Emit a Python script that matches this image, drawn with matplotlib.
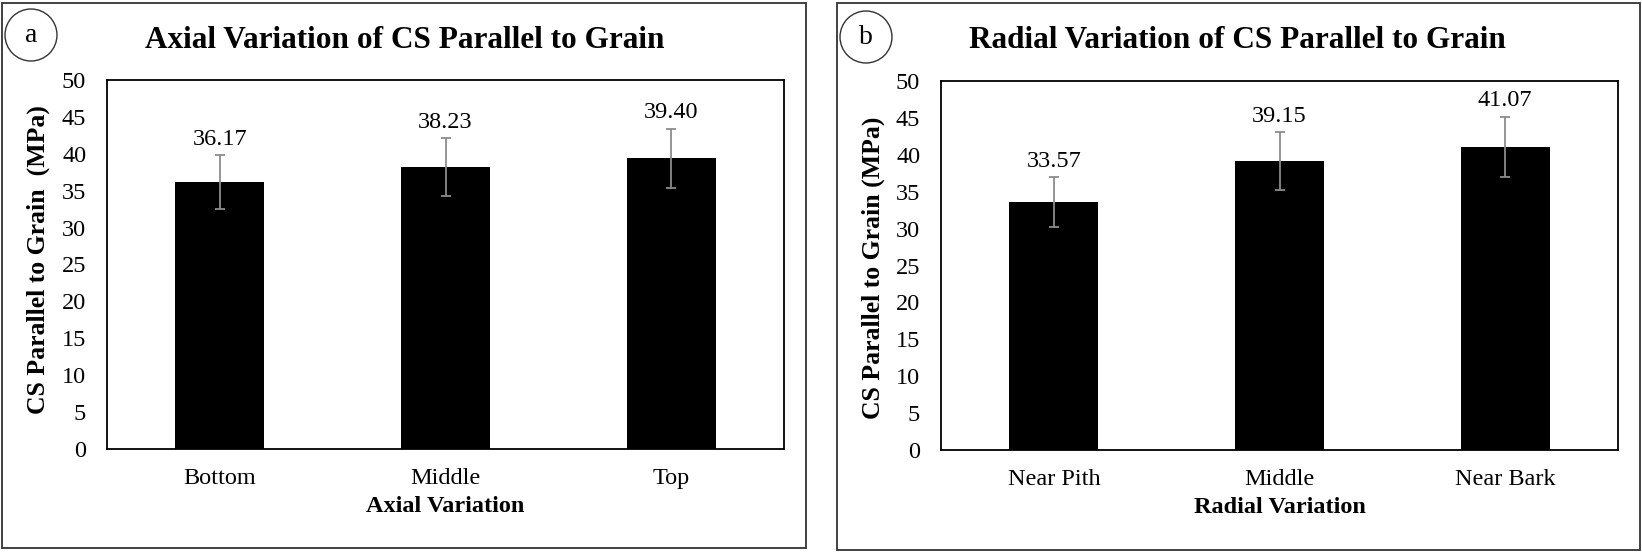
import matplotlib.pyplot as plt
from matplotlib.patches import Rectangle, Ellipse

plt.rcParams['font.family'] = ['Liberation Serif', 'DejaVu Serif']

# panel a data
axial_cats = ['Bottom', 'Middle', 'Top']
axial_vals = [36.17, 38.23, 39.40]
axial_err = [3.6, 3.9, 4.0]

# panel b data
radial_cats = ['Near Pith', 'Middle', 'Near Bark']
radial_vals = [33.57, 39.15, 41.07]
radial_err = [3.4, 3.9, 4.1]

y_ticks = [0, 5, 10, 15, 20, 25, 30, 35, 40, 45, 50]

W, H = 1642, 555
fig = plt.figure(figsize=(W / 100, H / 100), dpi=100)


def fx(px):
    return px / W


def fy(py):
    return 1 - py / H


panels = [
    dict(cats=axial_cats, vals=axial_vals, err=axial_err, letter='a',
         title='Axial Variation of CS Parallel to Grain', xlabel='Axial Variation',
         ylabel='CS Parallel to Grain  (MPa)',
         box=(2, 3, 806, 548), plot=(107, 80, 784, 449),
         circ=(31, 35), title_x=405, ylab=(38, 260)),
    dict(cats=radial_cats, vals=radial_vals, err=radial_err, letter='b',
         title='Radial Variation of CS Parallel to Grain', xlabel='Radial Variation',
         ylabel='CS Parallel to Grain (MPa)',
         box=(837, 3, 1640, 550), plot=(941, 81, 1618, 450),
         circ=(866, 37), title_x=1237, ylab=(873, 268)),
]

for p in panels:
    x0, y0, x1, y1 = p['box']
    fig.patches.append(Rectangle((fx(x0), fy(y1)), fx(x1 - x0), (y1 - y0) / H,
                                 transform=fig.transFigure, fill=False,
                                 edgecolor='#333333', lw=1.3))
    cx, cy = p['circ']
    fig.patches.append(Ellipse((fx(cx), fy(cy)), 52 / W, 52 / H,
                               transform=fig.transFigure, fill=False,
                               edgecolor='#333333', lw=1.0))
    fig.text(fx(cx), fy(cy), p['letter'], ha='center', va='center', fontsize=20)
    fig.text(fx(p['title_x']), fy(40), p['title'], ha='center', va='center',
             fontsize=22.5, fontweight='bold')

    px0, py0, px1, py1 = p['plot']
    ax = fig.add_axes([fx(px0), fy(py1), fx(px1 - px0), (py1 - py0) / H])
    xs = range(len(p['cats']))
    ax.bar(xs, p['vals'], width=0.395, color='black')
    ax.errorbar(xs, p['vals'], yerr=p['err'], fmt='none', ecolor='#8c8c8c',
                elinewidth=1.3, capsize=3.5, capthick=1.3)
    for x, v, e in zip(xs, p['vals'], p['err']):
        ax.annotate(f'{v:.2f}', (x, v + e), xytext=(0, 11.5), textcoords='offset points',
                    ha='center', va='center', fontsize=17.5)
    ax.set_xlim(-0.5, len(p['cats']) - 0.5)
    ax.set_ylim(0, 50)
    ax.set_yticks(y_ticks)
    ax.set_xticks(list(xs))
    ax.set_xticklabels(p['cats'])
    ax.tick_params(length=0, labelsize=17.5)
    ax.tick_params(axis='y', pad=15)
    ax.tick_params(axis='x', pad=14)
    ax.set_xlabel(p['xlabel'], fontsize=17.5, fontweight='bold', labelpad=5)
    for s in ax.spines.values():
        s.set_linewidth(1.3)
        s.set_color('black')
    fig.text(fx(p['ylab'][0]), fy(p['ylab'][1]), p['ylabel'], rotation=90,
             ha='center', va='center', fontsize=18.5, fontweight='bold')

fig.savefig('out.png', dpi=100)
